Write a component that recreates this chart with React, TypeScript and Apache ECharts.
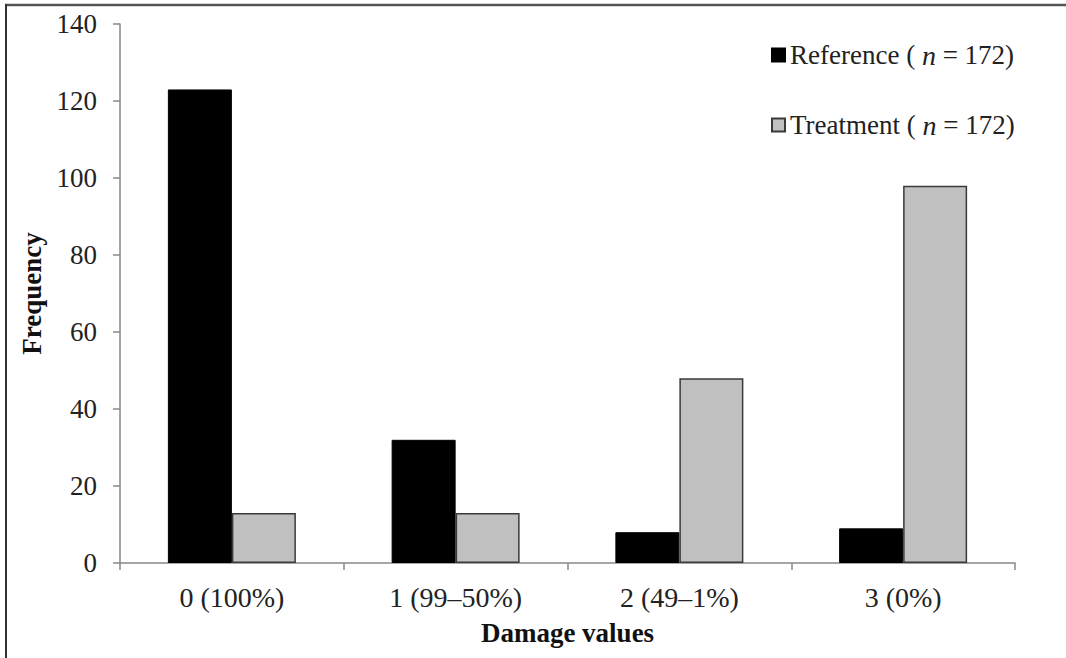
import React, { useEffect, useRef } from "react";
import * as echarts from "echarts";

const categories = ["0 (100%)", "1 (99–50%)", "2 (49–1%)", "3 (0%)"];
const referenceValues = [123, 32, 8, 9];
const treatmentValues = [13, 13, 48, 98];
const yTicks = { min: 0, max: 140, interval: 20 };
const FONT = '"Liberation Serif", "Times New Roman", serif';

export default function App() {
  const ref = useRef<HTMLDivElement>(null);
  useEffect(() => {
    if (!ref.current) return;
    const chart = echarts.init(ref.current, null, { renderer: "svg" });
    const legendRich = {
      i: { fontStyle: "italic", fontSize: 28, fontFamily: FONT, color: "#222", lineHeight: 30 },
    };
    chart.setOption({
      animation: false,
      backgroundColor: "#fff",
      textStyle: { fontFamily: FONT },
      grid: { left: 120, right: 51, top: 24, bottom: 95, containLabel: false },
      legend: {
        orient: "vertical",
        left: 766,
        top: 35,
        itemWidth: 13,
        itemHeight: 13,
        itemGap: 40,
        itemTextGap: 7,
        icon: "rect",
        textStyle: { fontFamily: FONT, fontSize: 27, lineHeight: 30, color: "#222", rich: legendRich },
        formatter: (name: string) => `${name} ( {i|n} = 172)`,
        data: ["Reference", "Treatment"],
      },
      xAxis: {
        type: "category",
        data: categories,
        name: "Damage values",
        nameLocation: "middle",
        nameGap: 56,
        nameTextStyle: { fontFamily: FONT, fontSize: 27, fontWeight: "bold", color: "#111" },
        axisLine: { lineStyle: { color: "#888", width: 1.5 } },
        axisTick: { show: true, length: 7, lineStyle: { color: "#888", width: 1.5 } },
        axisLabel: { fontFamily: FONT, fontSize: 28, color: "#222", margin: 20 },
      },
      yAxis: {
        type: "value",
        min: yTicks.min,
        max: yTicks.max,
        interval: yTicks.interval,
        name: "Frequency",
        nameLocation: "middle",
        nameGap: 70,
        nameRotate: 90,
        nameTextStyle: { fontFamily: FONT, fontSize: 27, fontWeight: "bold", color: "#111" },
        axisLine: { show: true, lineStyle: { color: "#888", width: 1.5 } },
        axisTick: { show: true, length: 7, lineStyle: { color: "#888", width: 1.5 } },
        splitLine: { show: false },
        axisLabel: { fontFamily: FONT, fontSize: 27, color: "#222", margin: 23 },
      },
      series: [
        {
          name: "Reference",
          type: "bar",
          data: referenceValues,
          barWidth: 64,
          barGap: "0%",
          itemStyle: { color: "#000", borderColor: "#000", borderWidth: 1 },
        },
        {
          name: "Treatment",
          type: "bar",
          data: treatmentValues,
          barWidth: 64,
          barGap: "0%",
          itemStyle: { color: "#c0c0c0", borderColor: "#3a3a3a", borderWidth: 1.5 },
        },
      ],
      graphic: [
        { type: "line", shape: { x1: 5, y1: 5, x2: 1066, y2: 5 }, style: { stroke: "#555", lineWidth: 2.5 } },
        { type: "line", shape: { x1: 6, y1: 4, x2: 6, y2: 658 }, style: { stroke: "#333", lineWidth: 2 } },
      ],
    });
    return () => chart.dispose();
  }, []);
  return (
    <div
      ref={ref}
      style={{ position: "fixed", left: 0, top: 0, width: 1066, height: 658 }}
    />
  );
}
